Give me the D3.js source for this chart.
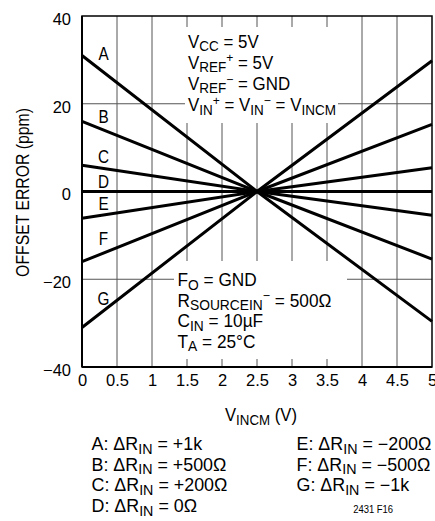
<!DOCTYPE html>
<html><head><meta charset="utf-8">
<script src="https://cdn.jsdelivr.net/npm/d3@7"></script>
<style>
html,body{margin:0;padding:0;background:#fff;}
svg text{font-family:"Liberation Sans",Arial,sans-serif;fill:#000;}
</style></head>
<body>
<svg id="c" width="435" height="521"></svg>
<script>
// ---- data ----
const xValues = [0, 2.5, 5];
const seriesNames = ["A","B","C","D","E","F","G"];
const seriesA = [31, 0, -29.6];
const seriesB = [16, 0, -15.4];
const seriesC = [6, 0, -5.4];
const seriesD = [0, 0, 0];
const seriesE = [-6.1, 0, 5.4];
const seriesF = [-16, 0, 15.3];
const seriesG = [-31, 0, 29.8];
const xTicks = [0, 0.5, 1, 1.5, 2, 2.5, 3, 3.5, 4, 4.5, 5];
const xTickLabels = ["0","0.5","1","1.5","2","2.5","3","3.5","4","4.5","5"];
const yTicks = [40, 20, 0, -20, -40];
const yTickLabels = ["40","20","0","\u221220","\u221240"];
const legendLeft = [
  ["A: \u0394R","IN"," = +1k"],
  ["B: \u0394R","IN"," = +500\u03A9"],
  ["C: \u0394R","IN"," = +200\u03A9"],
  ["D: \u0394R","IN"," = 0\u03A9"]
];
const legendRight = [
  ["E: \u0394R","IN"," = \u2212200\u03A9"],
  ["F: \u0394R","IN"," = \u2212500\u03A9"],
  ["G: \u0394R","IN"," = \u22121k"]
];

const allSeries = [seriesA, seriesB, seriesC, seriesD, seriesE, seriesF, seriesG];

// ---- layout ----
const svg = d3.select("#c");
const x = d3.scaleLinear().domain([0,5]).range([82,432]);
const y = d3.scaleLinear().domain([-40,40]).range([367,16]);

// grid
const grid = svg.append("g").attr("stroke","#555").attr("stroke-width",1);
xTicks.slice(1,-1).forEach(v=>{
  grid.append("line").attr("x1",x(v)).attr("x2",x(v)).attr("y1",y(40)).attr("y2",y(-40));
});
[20,0,-20].forEach(v=>{
  grid.append("line").attr("x1",x(0)).attr("x2",x(5)).attr("y1",y(v)).attr("y2",y(v));
});

// white boxes behind annotations
svg.append("rect").attr("x",185).attr("y",27).attr("width",153).attr("height",96).attr("fill","#fff");
svg.append("rect").attr("x",174).attr("y",261).attr("width",173).attr("height",98).attr("fill","#fff");

// frame
svg.append("rect").attr("x",x(0)).attr("y",y(40)).attr("width",x(5)-x(0)).attr("height",y(-40)-y(40))
  .attr("fill","none").attr("stroke","#000").attr("stroke-width",1.5);
svg.append("line").attr("x1",x(0)).attr("x2",x(0)).attr("y1",y(40)).attr("y2",y(-40)).attr("stroke","#000").attr("stroke-width",2);
svg.append("line").attr("x1",x(0)).attr("x2",x(5)).attr("y1",y(-40)).attr("y2",y(-40)).attr("stroke","#000").attr("stroke-width",2);

// data lines
const line = d3.line().x((d,i)=>x(xValues[i])).y(d=>y(d));
allSeries.forEach(s=>{
  svg.append("path").attr("d",line(s)).attr("fill","none").attr("stroke","#000").attr("stroke-width",3);
});

// axes tick labels
const xAxis = d3.axisBottom(x).tickValues(xTicks).tickFormat((d,i)=>xTickLabels[i]).tickSize(0).tickPadding(7);
const gx = svg.append("g").attr("transform",`translate(0,${y(-40)})`).call(xAxis);
gx.select(".domain").remove();
gx.selectAll("text").attr("font-size",16.5).attr("font-family",null);
const yAxis = d3.axisLeft(y).tickValues(yTicks).tickFormat((d,i)=>yTickLabels[i]).tickSize(0).tickPadding(11);
const gy = svg.append("g").attr("transform",`translate(${x(0)},0)`).call(yAxis);
gy.select(".domain").remove();
gy.selectAll("text").attr("font-size",16.5).attr("font-family",null).attr("dy","0.5em");

// rich text helper: draws at (xp,yp) with horizontal condensation sx
function rich(xp, yp, parts, size, sx, anchor){
  const g = svg.append("g").attr("transform",`translate(${xp},${yp}) scale(${sx},1)`);
  const t = g.append("text").attr("x",0).attr("y",0).attr("font-size",size);
  if(anchor) t.attr("text-anchor",anchor);
  let cur = 0;
  parts.forEach(([s,k])=>{
    const shift = k==="sub" ? size*0.2 : k==="sup" ? -size*0.36 : 0;
    const ts = t.append("tspan").text(s).attr("dy",shift-cur);
    if(k==="sub") ts.attr("font-size",size*0.8);
    if(k==="sup") ts.attr("font-size",size*0.72);
    cur = shift;
  });
  return t;
}
function naturalWidth(parts, size){
  const t = rich(0,0,parts,size,1);
  const w = t.node().getComputedTextLength ? t.node().getBBox().width : 100;
  d3.select(t.node().parentNode).remove();
  return w;
}

const FS = 17.5;
const C = 0.88; // condensed face

// axis titles
const yTitle = [["OFFSET ERROR (ppm)"]];
const yTitleSx = 169 / naturalWidth(yTitle, 18);
svg.append("g").attr("transform",`translate(29,192.5) rotate(-90) scale(${yTitleSx},1)`)
  .append("text").attr("text-anchor","middle").attr("font-size",18).text("OFFSET ERROR (ppm)");
const xTitle = [["V"],["INCM","sub"],[" (V)"]];
rich(225,421,xTitle,FS,72/naturalWidth(xTitle,FS));

// series labels
const labelY = [60,123,163,188,210,245,305];
seriesNames.forEach((n,i)=>{
  rich(103.5,labelY[i],[[n]],18,0.85,"middle");
});

// annotations
const topAnn = [
  [["V"],["CC","sub"],[" = 5V"]],
  [["V"],["REF","sub"],["+","sup"],[" = 5V"]],
  [["V"],["REF","sub"],["\u2212","sup"],[" = GND"]],
  [["V"],["IN","sub"],["+","sup"],[" = V"],["IN","sub"],["\u2212","sup"],[" = V"],["INCM","sub"]]
];
const topSx = 148 / naturalWidth(topAnn[3], FS);
topAnn.forEach((p,i)=>rich(188,47.5+i*21.2,p,FS,topSx));
const botAnn = [
  [["F"],["O","sub"],[" = GND"]],
  [["R"],["SOURCEIN","sub"],["\u2212","sup"],[" = 500\u03A9"]],
  [["C"],["IN","sub"],[" = 10\u00B5F"]],
  [["T"],["A","sub"],[" = 25\u00B0C"]]
];
const botSx = 154 / naturalWidth(botAnn[1], FS);
botAnn.forEach((p,i)=>rich(177.5,286+i*20.6,p,FS,botSx));

// legend
const legParts = p => [[p[0]],[p[1],"sub"],[p[2]]];
const legSx = 135 / naturalWidth(legParts(legendRight[0]), FS);
legendLeft.forEach((p,i)=>rich(91.5,450+i*20.7,legParts(p),FS,legSx));
legendRight.forEach((p,i)=>rich(296.5,450+i*20.7,legParts(p),FS,legSx));
rich(393,513,[["2431 F16"]],10.5,0.9,"end");
</script>
</body></html>
